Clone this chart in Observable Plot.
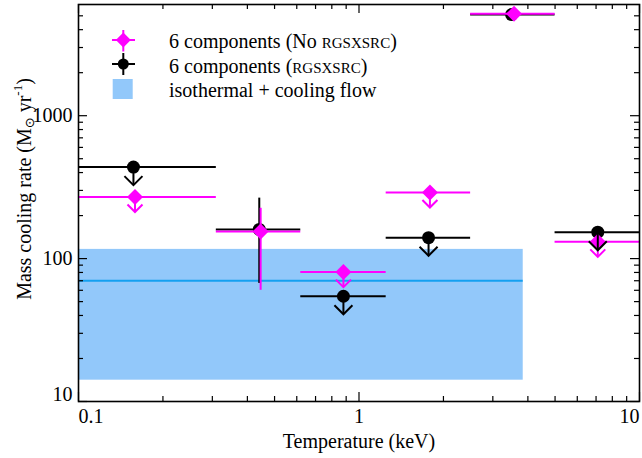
<!DOCTYPE html>
<html><head><meta charset="utf-8">
<script src="https://cdn.jsdelivr.net/npm/d3@7"></script>
<script src="https://cdn.jsdelivr.net/npm/@observablehq/plot@0.6"></script>
<style>
body{margin:0;background:#fff;}
#chart{position:relative;width:642px;height:458px;}
</style></head><body><div id="chart"></div>
<script>
// ---- data ----
const binLow  = [0.078, 0.31, 0.62, 1.25, 2.5, 5.0];
const binHigh = [0.31, 0.62, 1.25, 2.5, 5.0, 10.0];

const blackT       = [0.157, 0.441, 0.88, 1.77, 3.50, 7.1];
const blackRate    = [437, 160, 54.5, 140, 5100, 153];
const blackUpper   = [true, false, true, true, false, true];
const blackErrLow  = [null, 67, null, null, null, null];
const blackErrHigh = [null, 265, null, null, null, null];

const magT       = [0.159, 0.446, 0.88, 1.79, 3.57, 7.1];
const magRate    = [270, 155, 80.5, 290, 5160, 131];
const magUpper   = [true, false, true, true, false, true];
const magErrLow  = [null, 60, null, null, null, null];
const magErrHigh = [null, 225, null, null, null, null];

const bandT    = [0.078, 3.85];
const bandRate = [14.1, 116];
const bandBest = 70;

const xTickLabels = [0.1, 1, 10];
const yTickLabels = [10, 100, 1000];
const xMajorTicks = [0.1, 1, 10];
const xMinorTicks = [0.2,0.3,0.4,0.5,0.6,0.7,0.8,0.9,2,3,4,5,6,7,8,9];
const yMajorTicks = [10, 100, 1000];
const yMinorTicks = [20,30,40,50,60,70,80,90,200,300,400,500,600,700,800,900,2000,3000,4000,5000];

const legendLabels = ["6 components (No ", "RGSXSRC", ")", "6 components (", "RGSXSRC", ")", "isothermal + cooling flow"];

// ---- build tables ----
const black = blackT.map((t,i)=>({t, lo:binLow[i], hi:binHigh[i], rate:blackRate[i], up:blackUpper[i], eLo:blackErrLow[i], eHi:blackErrHigh[i]}));
const mag   = magT.map((t,i)=>({t, lo:binLow[i], hi:binHigh[i], rate:magRate[i], up:magUpper[i], eLo:magErrLow[i], eHi:magErrHigh[i]}));
const band  = [{x1:bandT[0], x2:bandT[1], y1:bandRate[0], y2:bandRate[1]}];

const W = 642, H = 458, mL = 78, mR = 3, mT = 4, mB = 57;
const iw = W - mL - mR, ih = H - mT - mB;
const MAJ = 9, MIN = 5;
const MAG = "#ff00ff";

const diamondSym = {draw(ctx, size){ const r = Math.sqrt(size/Math.PI); ctx.moveTo(0,-r); ctx.lineTo(r,0); ctx.lineTo(0,r); ctx.lineTo(-r,0); ctx.closePath(); }};
const vSym = {draw(ctx, size){ const r = Math.sqrt(size/Math.PI); ctx.moveTo(-r,-r); ctx.lineTo(0,0); ctx.lineTo(r,-r); }};

const blackRatio = 0.748, magRatio = 0.785;
const font = "'Liberation Serif', 'Times New Roman', serif";

const plot = Plot.plot({
  width: W, height: H,
  marginLeft: mL, marginRight: mR, marginTop: mT, marginBottom: mB,
  style: {fontFamily: font, fontSize: "20px", color: "black", background: "white"},
  x: {type: "log", domain: [0.1, 10], label: null, axis: null},
  y: {type: "log", domain: [10, 6000], label: null, axis: null},
  marks: [
    Plot.rect(band, {x1:"x1", x2:"x2", y1:"y1", y2:"y2", fill:"#92c8fa", clip:true}),
    Plot.ruleY([bandBest], {x1: bandT[0], x2: bandT[1], stroke:"#14a0f0", strokeWidth:2, clip:true}),
    // black series
    Plot.ruleY(black, {y:"rate", x1:"lo", x2:"hi", stroke:"black", strokeWidth:2, clip:true}),
    Plot.ruleX(black.filter(d=>d.eLo!=null), {x:"t", y1:"eLo", y2:"eHi", stroke:"black", strokeWidth:2}),
    Plot.dot(black, {x:"t", y:"rate", r:6.5, fill:"black", stroke:null}),
    // magenta series
    Plot.ruleY(mag, {y:"rate", x1:"lo", x2:"hi", stroke:MAG, strokeWidth:2, clip:true}),
    Plot.ruleX(mag.filter(d=>d.eLo!=null), {x:"t", y1:"eLo", y2:"eHi", stroke:MAG, strokeWidth:2}),
    Plot.dot(mag, {x:"t", y:"rate", r:8, symbol: diamondSym, fill:MAG, stroke:null}),
    Plot.ruleX(mag.filter(d=>d.up), {x:"t", y1:"rate", y2:d=>d.rate*magRatio, stroke:MAG, strokeWidth:2}),
    Plot.dot(mag.filter(d=>d.up), {x:"t", y:d=>d.rate*magRatio, r:7.5, symbol:vSym, fill:"none", stroke:MAG, strokeWidth:2}),
    Plot.ruleX(black.filter(d=>d.up), {x:"t", y1:"rate", y2:d=>d.rate*blackRatio, stroke:"black", strokeWidth:2}),
    Plot.dot(black.filter(d=>d.up), {x:"t", y:d=>d.rate*blackRatio, r:9, symbol:vSym, fill:"none", stroke:"black", strokeWidth:2}),
    // inward ticks
    Plot.ruleX(xMajorTicks, {x:d=>d, insetTop: ih-MAJ, stroke:"black", strokeWidth:1.2}),
    Plot.ruleX(xMinorTicks, {x:d=>d, insetTop: ih-MIN, stroke:"black", strokeWidth:1.2}),
    Plot.ruleX(xMajorTicks, {x:d=>d, insetBottom: ih-MAJ, stroke:"black", strokeWidth:1.2}),
    Plot.ruleX(xMinorTicks, {x:d=>d, insetBottom: ih-MIN, stroke:"black", strokeWidth:1.2}),
    Plot.ruleY(yMajorTicks, {y:d=>d, insetRight: iw-MAJ, stroke:"black", strokeWidth:1.2}),
    Plot.ruleY(yMinorTicks, {y:d=>d, insetRight: iw-MIN, stroke:"black", strokeWidth:1.2}),
    Plot.ruleY(yMajorTicks, {y:d=>d, insetLeft: iw-MAJ, stroke:"black", strokeWidth:1.2}),
    Plot.ruleY(yMinorTicks, {y:d=>d, insetLeft: iw-MIN, stroke:"black", strokeWidth:1.2}),
    Plot.frame({stroke:"black", strokeWidth:1.6}),
    // tick labels
    Plot.axisX({ticks:[xTickLabels[0]], tickSize:0, tickPadding:7, textAnchor:"start", tickFormat:d=>String(d), label:null, fontSize:20}),
    Plot.axisX({ticks:[xTickLabels[1]], tickSize:0, tickPadding:7, tickFormat:d=>String(d), label:null, fontSize:20}),
    Plot.axisX({ticks:[xTickLabels[2]], tickSize:0, tickPadding:7, textAnchor:"end", tickFormat:d=>String(d), label:null, fontSize:20}),
    Plot.axisY({ticks:[yTickLabels[0]], tickSize:0, tickPadding:6, dy:-7, tickFormat:d=>String(d), label:null, fontSize:20}),
    Plot.axisY({ticks:yTickLabels.slice(1), tickSize:0, tickPadding:6, tickFormat:d=>String(d), label:null, fontSize:20}),
    Plot.text(["Temperature (keV)"], {text:d=>d, frameAnchor:"bottom", dy:46, fontSize:20, fill:"black"})
  ]
});

const svg = d3.select(plot);
// y-axis label with sub/superscript
const yl = svg.append("text").attr("transform","translate(31,189) rotate(-90)")
  .attr("text-anchor","middle").attr("font-size",20).attr("fill","black").attr("font-family",font);
yl.append("tspan").text("Mass cooling rate (M");
yl.append("tspan").attr("font-size",13).attr("dy",3).attr("font-family","'DejaVu Sans', sans-serif").text("\u2299");
yl.append("tspan").attr("dy",-3).text(" yr");
yl.append("tspan").attr("font-size",13).attr("dy",-9).text("-1");
yl.append("tspan").attr("dy",9).text(")");

// legend
const lg = svg.append("g").attr("text-anchor","start");
const lx = 123.3;
lg.append("line").attr("x1",112).attr("x2",135).attr("y1",40).attr("y2",40).attr("stroke",MAG).attr("stroke-width",2);
lg.append("line").attr("x1",lx).attr("x2",lx).attr("y1",30).attr("y2",51.5).attr("stroke",MAG).attr("stroke-width",2);
lg.append("path").attr("d",`M${lx},${40-7.5}L${lx+7.5},40L${lx},${40+7.5}L${lx-7.5},40Z`).attr("fill",MAG);
lg.append("line").attr("x1",112).attr("x2",135).attr("y1",64).attr("y2",64).attr("stroke","black").attr("stroke-width",2);
lg.append("line").attr("x1",lx).attr("x2",lx).attr("y1",53).attr("y2",75).attr("stroke","black").attr("stroke-width",2);
lg.append("circle").attr("cx",lx).attr("cy",64).attr("r",5.5).attr("fill","black");
lg.append("rect").attr("x",112.7).attr("y",79).attr("width",20).attr("height",20).attr("fill","#92c8fa");
const t1 = lg.append("text").attr("x",169).attr("y",48).attr("text-anchor","start").attr("font-size",20).attr("fill","black").attr("font-family",font);
t1.append("tspan").text(legendLabels[0]);
t1.append("tspan").attr("font-size",15).text(legendLabels[1]);
t1.append("tspan").text(legendLabels[2]);
const t2 = lg.append("text").attr("x",169).attr("y",73).attr("text-anchor","start").attr("font-size",20).attr("fill","black").attr("font-family",font);
t2.append("tspan").text(legendLabels[3]);
t2.append("tspan").attr("font-size",15).text(legendLabels[4]);
t2.append("tspan").text(legendLabels[5]);
lg.append("text").attr("x",169).attr("y",97).attr("text-anchor","start").attr("font-size",20).attr("fill","black").attr("font-family",font).text(legendLabels[6]);

document.getElementById("chart").appendChild(plot);
</script></body></html>
